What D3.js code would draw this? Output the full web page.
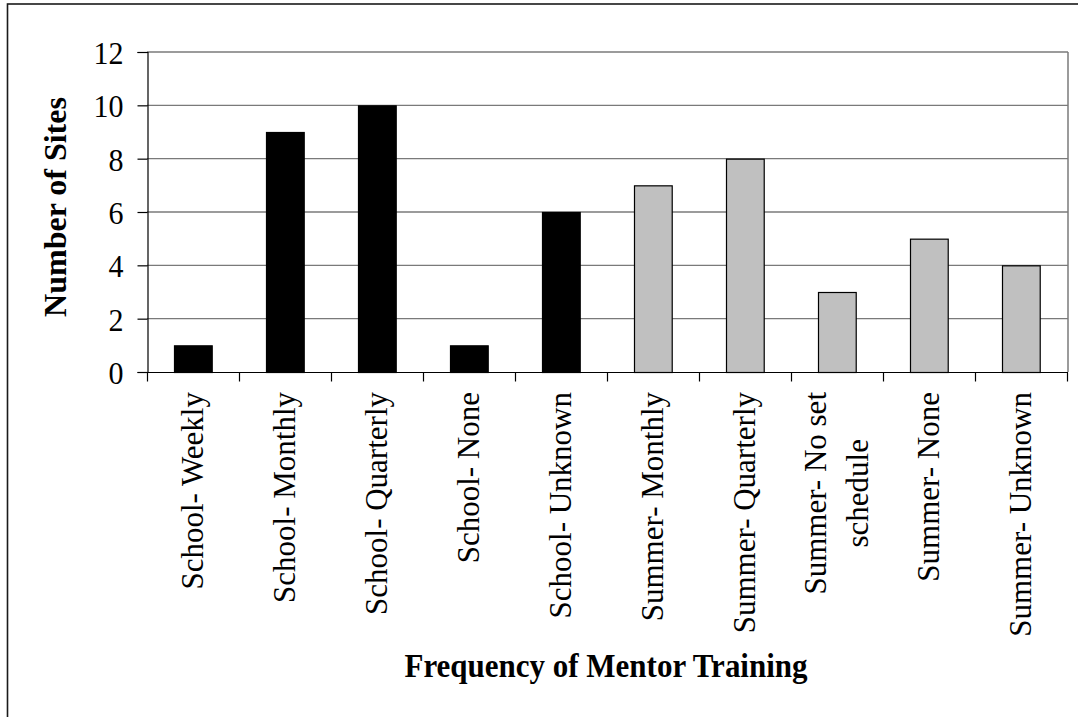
<!DOCTYPE html>
<html>
<head>
<meta charset="utf-8">
<script src="https://cdn.jsdelivr.net/npm/d3@7"></script>
<style>
  body { margin: 0; background: #fff; }
  svg { display: block; }
  text { font-family: "Liberation Serif", "Times New Roman", serif; fill: #000; }
</style>
</head>
<body>
<script>
'use strict';

// chart data
const categories = [
  "School- Weekly", "School- Monthly", "School- Quarterly", "School- None",
  "School- Unknown", "Summer- Monthly", "Summer- Quarterly",
  "Summer- No set\nschedule", "Summer- None", "Summer- Unknown"
];
const siteCounts = [1, 9, 10, 1, 6, 7, 8, 3, 5, 4];
const groups = ["School", "School", "School", "School", "School",
  "Summer", "Summer", "Summer", "Summer", "Summer"];
const yTicks = [0, 2, 4, 6, 8, 10, 12];
const xTitle = "Frequency of Mentor Training";
const yTitle = "Number of Sites";

(function () {
  const width = 1078, height = 717;
  const plot = { left: 147, right: 1067, top: 52, bottom: 372 };
  const groupColor = { School: "#000000", Summer: "#c0c0c0" };
  const stretch = 1.08; // text in the original looks a bit taller than wide

  let svg = d3.select("body").append("svg")
    .attr("width", width)
    .attr("height", height);

  // outer chart border (runs off the right and bottom edges)
  svg.append("rect")
    .attr("x", 7.5).attr("y", 4)
    .attr("width", 1200).attr("height", 900)
    .attr("fill", "none")
    .attr("stroke", "#1a1a1a")
    .attr("stroke-width", 1.6);

  let xScale = d3.scaleBand()
    .domain(d3.range(categories.length))
    .range([plot.left, plot.right])
    .padding(0);

  let yScale = d3.scaleLinear()
    .domain([0, 12])
    .range([plot.bottom, plot.top]);

  // gridlines
  svg.append("g")
    .selectAll("line")
    .data(yTicks.filter((d) => d > 0))
    .enter()
    .append("line")
    .attr("x1", plot.left).attr("x2", plot.right + 1)
    .attr("y1", (d) => yScale(d)).attr("y2", (d) => yScale(d))
    .attr("stroke", "#7a7a7a")
    .attr("stroke-width", 1.3);

  // plot area right border
  svg.append("line")
    .attr("x1", plot.right + 1).attr("x2", plot.right + 1)
    .attr("y1", plot.top).attr("y2", plot.bottom)
    .attr("stroke", "#7a7a7a")
    .attr("stroke-width", 1.5);

  // bars
  let barW = xScale.bandwidth() * 0.41;
  svg.append("g")
    .selectAll("rect")
    .data(siteCounts)
    .enter()
    .append("rect")
    .attr("x", (d, i) => Math.round(xScale(i) + (xScale.bandwidth() - barW) / 2) + 0.5)
    .attr("y", (d) => yScale(d) + 0.5)
    .attr("width", barW)
    .attr("height", (d) => yScale(0) - yScale(d))
    .attr("fill", (d, i) => groupColor[groups[i]])
    .attr("stroke", "#000")
    .attr("stroke-width", 1.2);

  // y axis
  let yAxis = d3.axisLeft(yScale)
    .tickValues(yTicks)
    .tickSize(10)
    .tickPadding(14)
    .tickFormat(d3.format("d"));
  let gy = svg.append("g")
    .attr("transform", "translate(" + (plot.left + 0.5) + ",0)")
    .call(yAxis);
  gy.select(".domain").attr("stroke", "#000").attr("stroke-width", 1.2);
  gy.selectAll(".tick line").attr("stroke", "#000").attr("stroke-width", 1.2);
  gy.selectAll(".tick text")
    .attr("font-family", "Liberation Serif")
    .style("font-size", "30px")
    .attr("dy", "0.35em")
    .attr("transform", "scale(1," + stretch + ")");

  // x axis with ticks on category boundaries
  let gx = svg.append("g")
    .attr("transform", "translate(0," + (plot.bottom + 0.5) + ")");
  gx.append("line")
    .attr("x1", plot.left).attr("x2", plot.right + 1)
    .attr("stroke", "#000").attr("stroke-width", 1.2);
  gx.selectAll(".xtick")
    .data(d3.range(categories.length + 1))
    .enter()
    .append("line")
    .attr("class", "xtick")
    .attr("x1", (d) => plot.left + d * xScale.step() + 0.5)
    .attr("x2", (d) => plot.left + d * xScale.step() + 0.5)
    .attr("y1", 0).attr("y2", 9)
    .attr("stroke", "#000").attr("stroke-width", 1.2);

  // rotated category labels
  const labelFont = 31;
  const lineGap = 42;
  categories.forEach((c, i) => {
    let lines = c.split("\n");
    let cx = xScale(i) + xScale.bandwidth() / 2;
    let g = svg.append("g")
      .attr("transform", "translate(" + cx + ",392) rotate(-90)");
    let t = g.append("text")
      .style("font-size", labelFont + "px")
      .attr("text-anchor", lines.length > 1 ? "middle" : "end");
    lines.forEach((ln, k) => {
      t.append("tspan")
        .attr("x", 0)
        .attr("y", 10 + (k - (lines.length - 1) / 2) * lineGap)
        .text(ln);
    });
    if (lines.length > 1) {
      // centre the block on the longest line, whose end sits at the top
      let longest = d3.max(t.selectAll("tspan").nodes(), (n) => n.getComputedTextLength());
      t.selectAll("tspan").attr("x", -longest / 2);
    }
  });

  // axis titles
  svg.append("text")
    .attr("transform", "translate(606,677) scale(1," + stretch + ")")
    .attr("text-anchor", "middle")
    .style("font-size", "31px")
    .style("font-weight", "bold")
    .text(xTitle);

  svg.append("text")
    .attr("transform", "translate(66,207) rotate(-90)")
    .attr("text-anchor", "middle")
    .style("font-size", "32px")
    .style("font-weight", "bold")
    .text(yTitle);
})();
</script>
</body>
</html>
